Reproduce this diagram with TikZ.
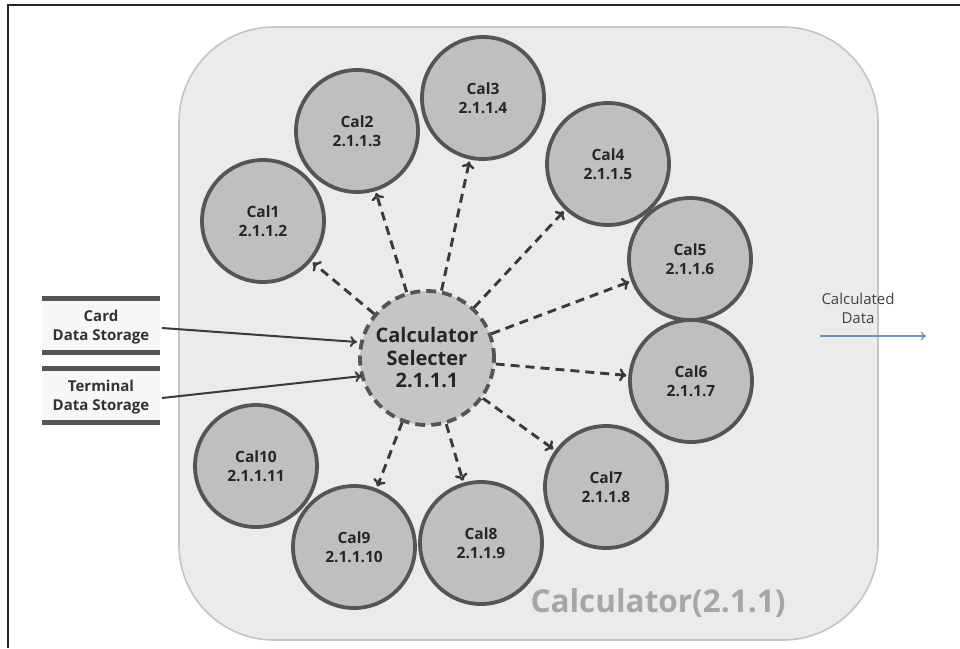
\documentclass[tikz,border=0pt]{standalone}
\usepackage{fontspec}
\setmainfont{Open Sans}
\usetikzlibrary{arrows.meta}
\definecolor{panelfill}{HTML}{EBEBEB}
\definecolor{panelline}{HTML}{C4C4C4}
\definecolor{calfill}{HTML}{BFBFBF}
\definecolor{calline}{HTML}{555555}
\definecolor{flowline}{HTML}{3A3A3A}
\definecolor{outblue}{HTML}{6D93BD}
\definecolor{titlegray}{HTML}{A6A6A6}
\tikzset{
  calc node/.style={circle, draw=calline, line width=3.8pt, fill=calfill,
    minimum size=122pt, inner sep=0pt, align=center,
    font=\fontsize{15.5}{19}\selectfont\bfseries, text=black!85},
  selector/.style={circle, draw=calline, line width=3.8pt, dash pattern=on 10pt off 6pt,
    fill=calfill!90!white, minimum size=134pt, inner sep=0pt, align=center,
    font=\fontsize{20}{22.5}\selectfont\bfseries, text=black!85},
  dispatch/.style={draw=flowline, line width=2.9pt, dash pattern=on 9pt off 6pt,
    -{To[length=7pt,width=13pt,line width=2.4pt]}},
  feed/.style={draw=flowline, line width=2pt, -{To[length=7pt,width=11pt]}},
  store bar/.style={draw=calline, line width=5pt},
  store text/.style={align=center, font=\fontsize{15}{18.5}\selectfont\bfseries, text=black!80}
}
\begin{document}
\begin{tikzpicture}[x=1pt, y=-1pt]
  \useasboundingbox (0,0) rectangle (960,648);
  \fill[white] (0,0) rectangle (960,648);

  % outer frame (top and left edges)
  \draw[black!85, line width=2.4pt] (8,648) -- (8,5) -- (960,5);

  % Calculator panel
  \draw[panelline, fill=panelfill, line width=1.6pt, rounded corners=95pt]
    (179,27) rectangle (878,640);
  \node[text=titlegray, font=\fontsize{31.5}{36}\selectfont\bfseries, anchor=base west]
    (paneltitle) at (527,612) {Calculator(2.1.1)};

  % calculators
  \node[calc node] (c1)  at (263,221) {Cal1\\2.1.1.2};
  \node[calc node] (c2)  at (357,131) {Cal2\\2.1.1.3};
  \node[calc node] (c3)  at (483,98)  {Cal3\\2.1.1.4};
  \node[calc node] (c4)  at (608,164) {Cal4\\2.1.1.5};
  \node[calc node] (c5)  at (690,259) {Cal5\\2.1.1.6};
  \node[calc node] (c6)  at (691,381) {Cal6\\2.1.1.7};
  \node[calc node] (c7)  at (606,487) {Cal7\\2.1.1.8};
  \node[calc node] (c8)  at (481,543) {Cal8\\2.1.1.9};
  \node[calc node] (c9)  at (354,547) {Cal9\\2.1.1.10};
  \node[calc node] (c10) at (256,466) {Cal10\\2.1.1.11};

  % selector
  \node[selector] (sel) at (427,358) {Calculator\\Selecter\\2.1.1.1};

  % dispatch arrows
  \foreach \t in {c1,c2,c3,c4,c5,c6,c7,c8,c9}
    \draw[dispatch, shorten >=2pt] (sel) -- (\t);

  % data storages
  \fill[gray!6] (42,298) rectangle (160,352);
  \draw[store bar] (42,298) -- (160,298);
  \draw[store bar] (42,352) -- (160,352);
  \node[store text] (card) at (101,327) {Card\\Data Storage};
  \fill[gray!6] (42,368) rectangle (160,422);
  \draw[store bar] (42,368) -- (160,368);
  \draw[store bar] (42,422) -- (160,422);
  \node[store text] (term) at (101,397) {Terminal\\Data Storage};
  \coordinate (cardout) at (162,328);
  \coordinate (termout) at (162,398);
  \coordinate (cardin) at (357,342);
  \coordinate (termin) at (362,376);
  \draw[feed] (cardout) -- (cardin);
  \draw[feed] (termout) -- (termin);

  % output
  \coordinate (outstart) at (820,336);
  \coordinate (outend) at (926,336);
  \draw[outblue, line width=1.3pt, -{To[length=5pt,width=9pt]}] (outstart) -- (outend);
  \node[align=center, text=black!75, font=\fontsize{15}{19}\selectfont] (outlabel)
    at (858,308) {Calculated\\Data};
\end{tikzpicture}
\end{document}
